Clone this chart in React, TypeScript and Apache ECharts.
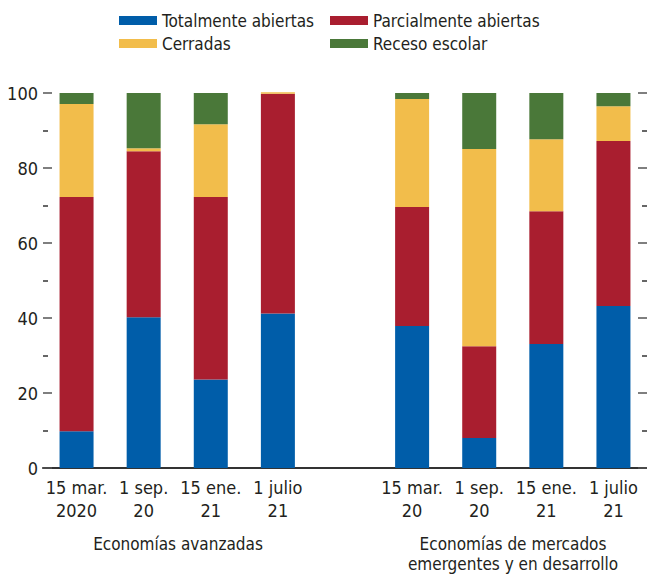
import React, { useEffect, useRef } from "react";
import * as echarts from "echarts";

const categories = [
  "15 mar.\n2020", "1 sep.\n20", "15 ene.\n21", "1 julio\n21",
  "",
  "15 mar.\n20", "1 sep.\n20", "15 ene.\n21", "1 julio\n21",
];
const totalmente = [9.8, 40.2, 23.6, 41.2, null, 37.9, 8.0, 33.1, 43.2];
const parcialmente = [62.5, 44.3, 48.7, 58.6, null, 31.7, 24.5, 35.4, 44.0];
const cerradas = [24.8, 0.8, 19.4, 0.4, null, 28.8, 52.6, 19.2, 9.3];
const receso = [2.9, 14.7, 8.3, 0, null, 1.6, 14.9, 12.3, 3.5];

const groupLabels = ["Economías avanzadas", "Economías de mercados\nemergentes y en desarrollo"];
const yTicks = { min: 0, max: 100, interval: 20 };

const FONT = "'Liberation Sans Narrow', 'DejaVu Sans Condensed', 'Arial Narrow', sans-serif";
const TXT = "#231f20";
const COLORS = { blue: "#005da9", red: "#a91e2f", yellow: "#f2bd4b", green: "#4a7839" };

export default function App() {
  const ref = useRef<HTMLDivElement>(null);
  useEffect(() => {
    if (!ref.current) return;
    const chart = echarts.init(ref.current, null, { renderer: "svg" });
    const legendItem = (name: string, left: number, top: number) => ({
      data: [name],
      left,
      top,
      padding: 0,
      itemWidth: 38,
      itemHeight: 9,
      itemGap: 5,
      icon: "rect",
      textStyle: { fontFamily: FONT, fontSize: 17, color: TXT, padding: [0, 0, 0, 0] },
    });
    const barSeries = (name: string, data: (number | null)[], color: string) => ({
      name,
      type: "bar",
      stack: "total",
      data,
      barWidth: 34,
      clip: false,
      itemStyle: { color },
      emphasis: { disabled: true },
    });
    chart.setOption({
      animation: false,
      textStyle: { fontFamily: FONT },
      grid: { left: 43, right: -2, top: 93, bottom: 108, containLabel: false },
      legend: [
        legendItem("Totalmente abiertas", 119, 12),
        legendItem("Parcialmente abiertas", 330, 12),
        legendItem("Cerradas", 119, 35),
        legendItem("Receso escolar", 330, 35),
      ],
      xAxis: {
        type: "category",
        data: categories,
        axisLine: { show: true, lineStyle: { color: "#333", width: 2 } },
        axisTick: { show: false },
        axisLabel: {
          interval: 0,
          fontFamily: FONT,
          fontSize: 18,
          lineHeight: 23,
          color: TXT,
          margin: 8,
        },
      },
      yAxis: [
        {
          type: "value",
          min: yTicks.min,
          max: yTicks.max,
          interval: yTicks.interval,
          position: "left",
          axisLine: { show: false },
          axisTick: { show: true, inside: true, length: 9, lineStyle: { color: "#555", width: 1.5 } },
          minorTick: { show: true, splitNumber: 2, length: 5, lineStyle: { color: "#333", width: 1.5 } },
          splitLine: { show: false },
          axisLabel: { fontFamily: FONT, fontSize: 18, color: TXT, margin: 5 },
        },
        {
          type: "value",
          min: yTicks.min,
          max: yTicks.max,
          interval: yTicks.interval,
          position: "right",
          axisLine: { show: false },
          axisTick: { show: true, inside: true, length: 9, lineStyle: { color: "#555", width: 1.5 } },
          minorTick: { show: true, splitNumber: 2, length: 5, lineStyle: { color: "#333", width: 1.5 } },
          splitLine: { show: false },
          axisLabel: { show: false },
        },
      ],
      series: [
        barSeries("Totalmente abiertas", totalmente, COLORS.blue),
        barSeries("Parcialmente abiertas", parcialmente, COLORS.red),
        barSeries("Cerradas", cerradas, COLORS.yellow),
        barSeries("Receso escolar", receso, COLORS.green),
      ],
      graphic: [
        {
          type: "text",
          x: 178,
          y: 544,
          style: {
            text: groupLabels[0],
            fontFamily: FONT,
            fontSize: 17,
            fill: TXT,
            align: "center",
            verticalAlign: "middle",
          },
        },
        {
          type: "text",
          x: 513,
          y: 534,
          style: {
            text: groupLabels[1],
            fontFamily: FONT,
            fontSize: 17,
            lineHeight: 20,
            fill: TXT,
            align: "center",
            verticalAlign: "top",
          },
        },
      ],
    });
    return () => chart.dispose();
  }, []);
  return (
    <div
      ref={ref}
      style={{ position: "fixed", left: 0, top: 0, width: 647, height: 576, background: "#fff" }}
    />
  );
}
